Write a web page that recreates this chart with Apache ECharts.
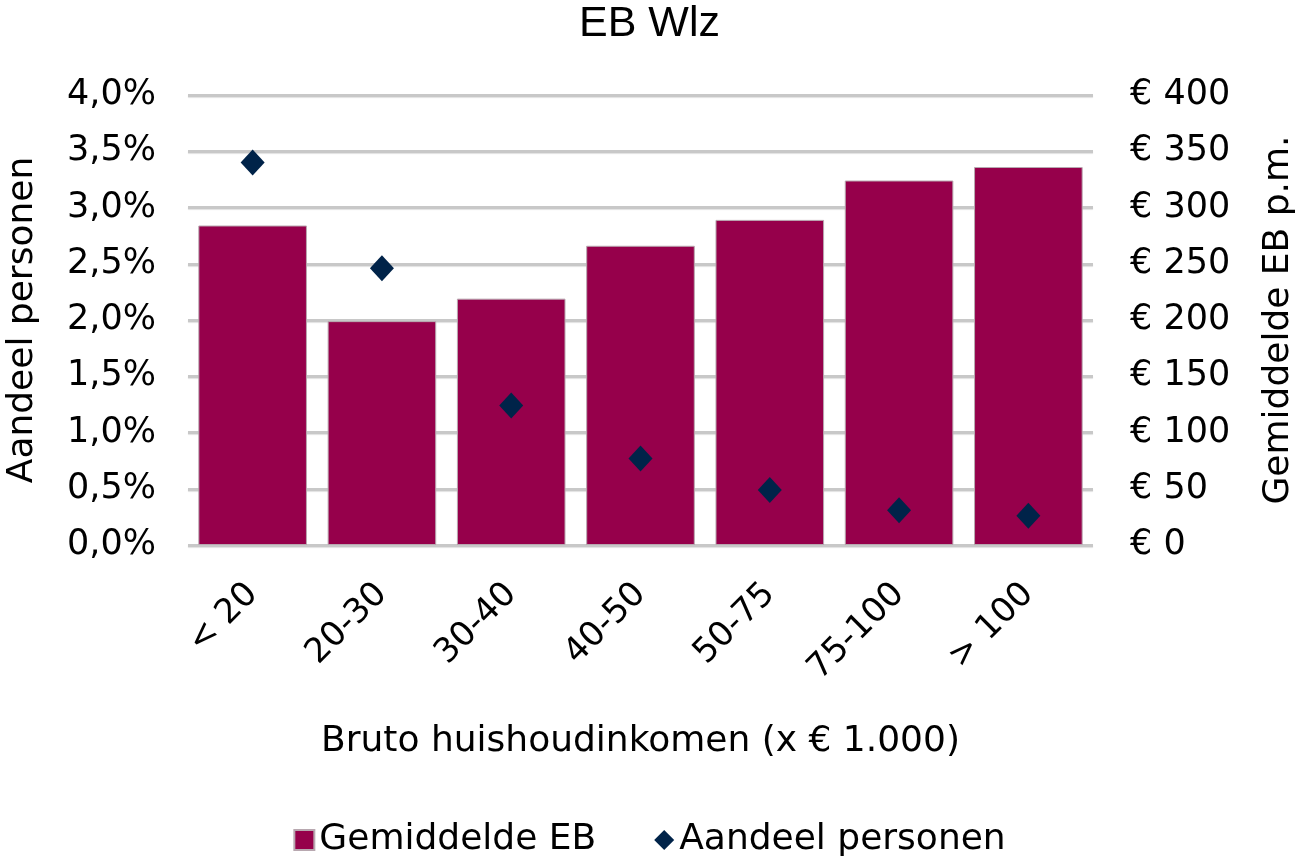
<!DOCTYPE html>
<html>
<head>
<meta charset="utf-8">
<script src="https://cdn.jsdelivr.net/npm/echarts@6/dist/echarts.min.js"></script>
<style>html,body{margin:0;padding:0;background:#fff;}#c{width:1299px;height:864px;}</style>
</head>
<body>
<div id="c"></div>
<script>
const categories = ['< 20', '20-30', '30-40', '40-50', '50-75', '75-100', '> 100'];
const gemiddeldeEB = [284, 199, 219, 266, 289, 324, 336];
const aandeelPersonen = [3.40, 2.46, 1.24, 0.77, 0.49, 0.31, 0.26];
const leftTicks = {min: 0, max: 4, interval: 0.5};
const rightTicks = {min: 0, max: 400, interval: 50};

const font = 'DejaVu Sans, Verdana, sans-serif';
const chart = echarts.init(document.getElementById('c'));
const gridLine = {lineStyle: {color: '#c8c8c8', width: 3, shadowColor: 'rgba(0,0,0,0.12)', shadowOffsetY: 1, shadowBlur: 1}};
chart.setOption({
  animation: false,
  backgroundColor: '#fff',
  textStyle: {fontFamily: font},
  title: {text: 'EB Wlz', left: 'center', top: -2, textStyle: {fontFamily: 'Liberation Sans, Arial, sans-serif', fontSize: 43, fontWeight: 'normal', color: '#000'}},
  grid: {left: 188, right: 206, top: 95, bottom: 319, containLabel: false, outerBoundsMode: 'none'},
  legend: {
    bottom: 1, left: 'center', itemGap: 58, itemWidth: 20, itemHeight: 20,
    textStyle: {fontFamily: font, fontSize: 36, color: '#000'},
    data: [{name: 'Gemiddelde EB', icon: 'rect'}, {name: 'Aandeel personen', icon: 'diamond'}]
  },
  xAxis: {
    type: 'category', data: categories,
    axisLine: {show: false}, axisTick: {show: false},
    axisLabel: {rotate: 45, fontSize: 34, color: '#000', margin: 44, fontFamily: font},
    name: 'Bruto huishoudinkomen (x € 1.000)', nameLocation: 'middle', nameGap: 179,
    nameTextStyle: {fontSize: 36, color: '#000', fontFamily: font}
  },
  yAxis: [
    {
      type: 'value', min: leftTicks.min, max: leftTicks.max, interval: leftTicks.interval,
      axisLine: {show: false}, axisTick: {show: false},
      splitLine: Object.assign({show: true}, gridLine),
      axisLabel: {fontSize: 35, color: '#000', margin: 32, fontFamily: font,
        formatter: v => v.toFixed(1).replace('.', ',') + '%'},
      name: 'Aandeel personen', nameLocation: 'middle', nameGap: 147, nameRotate: 90,
      nameTextStyle: {fontSize: 36, color: '#000', fontFamily: font}
    },
    {
      type: 'value', min: rightTicks.min, max: rightTicks.max, interval: rightTicks.interval,
      position: 'right',
      axisLine: {show: false}, axisTick: {show: false}, splitLine: {show: false},
      axisLabel: {fontSize: 35, color: '#000', margin: 37, fontFamily: font,
        formatter: v => '€ ' + v},
      name: 'Gemiddelde EB p.m.', nameLocation: 'middle', nameGap: 168, nameRotate: 90,
      nameTextStyle: {fontSize: 36, color: '#000', fontFamily: font}
    }
  ],
  series: [
    {
      name: 'Gemiddelde EB', type: 'bar', yAxisIndex: 1, data: gemiddeldeEB,
      barCategoryGap: '16%',
      itemStyle: {color: '#96004B', borderColor: '#b8a8b0', borderWidth: 1}
    },
    {
      name: 'Aandeel personen', type: 'scatter', yAxisIndex: 0, data: aandeelPersonen,
      symbol: 'diamond', symbolSize: [24, 26],
      itemStyle: {color: '#002349', opacity: 1}, z: 5
    }
  ]
});
</script>
</body>
</html>
